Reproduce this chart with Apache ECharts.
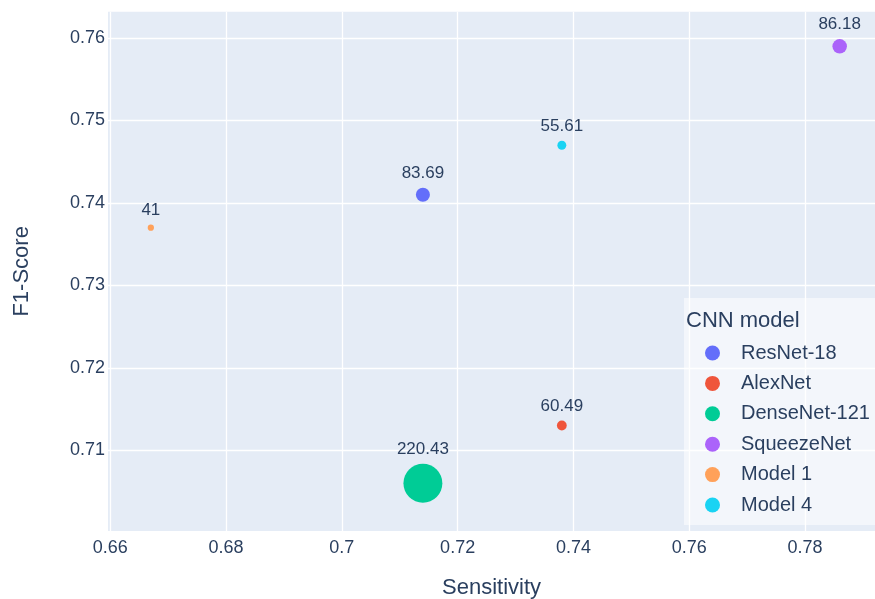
<!DOCTYPE html>
<html>
<head>
<meta charset="utf-8">
<script src="https://cdn.jsdelivr.net/npm/echarts@6/dist/echarts.min.js"></script>
<style>
  html, body { margin: 0; padding: 0; background: #fff; }
  #chart { width: 875px; height: 599px; }
</style>
</head>
<body>
<div id="chart"></div>
<script>
// values
const models = ["ResNet-18", "AlexNet", "DenseNet-121", "SqueezeNet", "Model 1", "Model 4"];
const sensitivity = [0.714, 0.738, 0.714, 0.786, 0.667, 0.738];
const f1Score = [0.741, 0.713, 0.706, 0.759, 0.737, 0.747];
const sizes = [83.69, 60.49, 220.43, 86.18, 41, 55.61];
const xTicks = [0.66, 0.68, 0.7, 0.72, 0.74, 0.76, 0.78];
const yTicks = [0.71, 0.72, 0.73, 0.74, 0.75, 0.76];

const colors = ["#636efa", "#EF553B", "#00cc96", "#ab63fa", "#FFA15A", "#19d3f3"];
const textColor = "#2a3f5f";
const font = "'Liberation Sans', Arial, sans-serif";

let chartDom = document.getElementById("chart");
let myChart = echarts.init(chartDom);

let series = models.map((name, i) => ({
  name: name,
  type: "scatter",
  data: [[sensitivity[i], f1Score[i], sizes[i]]],
  symbolSize: (v) => v[2] * 0.182 - 1.2,
  itemStyle: { color: colors[i], opacity: 1 },
  label: {
    show: true,
    position: "top",
    distance: 6,
    formatter: (p) => String(p.value[2]),
    color: textColor,
    fontSize: 17,
    fontFamily: font,
  },
  emphasis: { disabled: true },
}));

let option = {
  color: colors,
  backgroundColor: "#fff",
  animation: false,
  textStyle: { fontFamily: font, color: textColor },
  grid: {
    left: 108,
    right: 0,
    top: 11.7,
    bottom: 68,
    outerBoundsMode: "none",
    show: true,
    backgroundColor: "#E5ECF6",
    borderWidth: 0,
  },
  title: {
    text: "CNN model",
    left: 686,
    top: 310,
    padding: 0,
    z: 6,
    textStyle: { fontSize: 22, fontWeight: "normal", color: textColor, fontFamily: font },
  },
  legend: {
    orient: "vertical",
    left: 705,
    top: 343,
    padding: 0,
    itemWidth: 15,
    itemHeight: 15,
    itemGap: 10.4,
    icon: "circle",
    z: 5,
    textStyle: { fontSize: 20, color: textColor, fontFamily: font, padding: [0, 0, 0, 16] },
    data: models,
  },
  graphic: [
    {
      type: "rect",
      z: 3,
      shape: { x: 684, y: 298, width: 191, height: 227 },
      style: { fill: "rgba(255,255,255,0.55)" },
    },
  ],
  xAxis: {
    type: "value",
    min: 0.6596,
    max: 0.7921,
    name: "Sensitivity",
    nameLocation: "middle",
    nameGap: 46,
    nameTextStyle: { fontSize: 22, color: textColor, fontFamily: font },
    axisLine: { show: false },
    axisTick: { show: false, customValues: xTicks },
    axisLabel: { customValues: xTicks, fontSize: 18, color: textColor, margin: 8 },
    splitLine: { lineStyle: { color: "#fff", width: 1.3 } },
  },
  yAxis: {
    type: "value",
    min: 0.7002,
    max: 0.7632,
    name: "F1-Score",
    nameLocation: "middle",
    nameGap: 75,
    nameTextStyle: { fontSize: 22, color: textColor, fontFamily: font },
    axisLine: { show: false },
    axisTick: { show: false, customValues: yTicks },
    axisLabel: { customValues: yTicks, fontSize: 18, color: textColor, margin: 3 },
    splitLine: { lineStyle: { color: "#fff", width: 1.3 } },
  },
  series: series,
};

option && myChart.setOption(option);
</script>
</body>
</html>
